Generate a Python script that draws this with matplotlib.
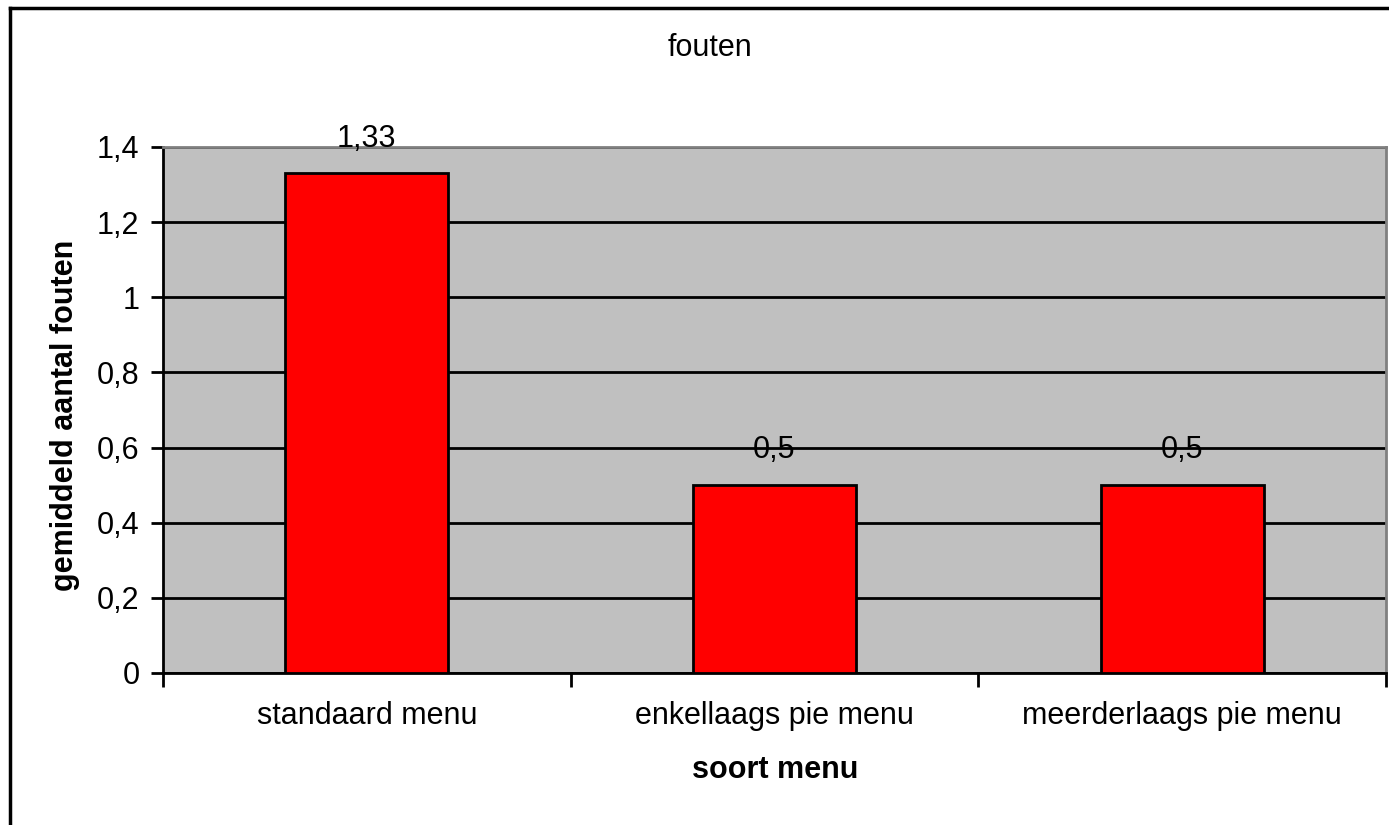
import matplotlib
matplotlib.use("Agg")
from matplotlib import pyplot as plt
from matplotlib.lines import Line2D
from matplotlib.ticker import FuncFormatter, MultipleLocator

# data
categories = ["standaard menu", "enkellaags pie menu", "meerderlaags pie menu"]
mean_errors = [1.33, 0.5, 0.5]
value_labels = ["1,33", "0,5", "0,5"]

plt.rcParams["font.family"] = ["Liberation Sans", "DejaVu Sans"]
FS = 22

fig = plt.figure(figsize=(13.89, 8.25), dpi=100)
ax = fig.add_axes([163 / 1389, 1 - 673 / 825, (1386 - 163) / 1389, (673 - 147) / 825])
ax.set_facecolor("#c0c0c0")

x = range(len(categories))
bars = ax.bar(x, mean_errors, width=0.4, color="#ff0000", edgecolor="black",
              linewidth=2, zorder=3)

# data labels above each bar
for bar, txt in zip(bars, value_labels):
    ax.annotate(txt, (bar.get_x() + bar.get_width() / 2, bar.get_height()),
                xytext=(0, 25), textcoords="offset points",
                ha="center", va="center", fontsize=FS)

ax.set_xlim(-0.5, len(categories) - 0.5)
ax.set_ylim(0, 1.4)
ax.yaxis.set_major_locator(MultipleLocator(0.2))
ax.yaxis.set_major_formatter(FuncFormatter(
    lambda v, pos: ("%g" % round(v, 1)).replace(".", ",")))
ax.grid(axis="y", color="black", linewidth=2, zorder=1)

# category labels between the boundary ticks
ax.set_xticks([i - 0.5 for i in range(len(categories) + 1)])
ax.set_xticklabels([])
ax.set_xticks(list(x), minor=True)
ax.set_xticklabels(categories, minor=True)
ax.tick_params(axis="x", which="minor", length=0, pad=20, labelsize=FS)
ax.tick_params(axis="x", which="major", length=10, width=2, direction="out")
ax.tick_params(axis="y", length=9, width=2, direction="out", labelsize=FS, pad=8)

for side in ("left", "bottom"):
    ax.spines[side].set_color("black")
    ax.spines[side].set_linewidth(2)
for side in ("top", "right"):
    ax.spines[side].set_color("#808080")
    ax.spines[side].set_linewidth(2)

fig.text(710 / 1389, 1 - 48 / 825, "fouten", fontsize=FS, ha="center", va="center")
fig.text(775 / 1389, 1 - 770 / 825, "soort menu", fontsize=FS, fontweight="bold",
         ha="center", va="center")
fig.text(65 / 1389, 1 - 415 / 825, "gemiddeld aantal fouten", fontsize=FS,
         fontweight="bold", rotation=90, ha="center", va="center")

# outer chart frame (only left and top edges are visible in the crop)
fig.add_artist(Line2D([10 / 1389, 10 / 1389], [0, 1 - 8 / 825],
                      transform=fig.transFigure, color="black", linewidth=2.5))
fig.add_artist(Line2D([10 / 1389, 1], [1 - 8 / 825, 1 - 8 / 825],
                      transform=fig.transFigure, color="black", linewidth=2.5))

fig.savefig("out.png", dpi=100)
